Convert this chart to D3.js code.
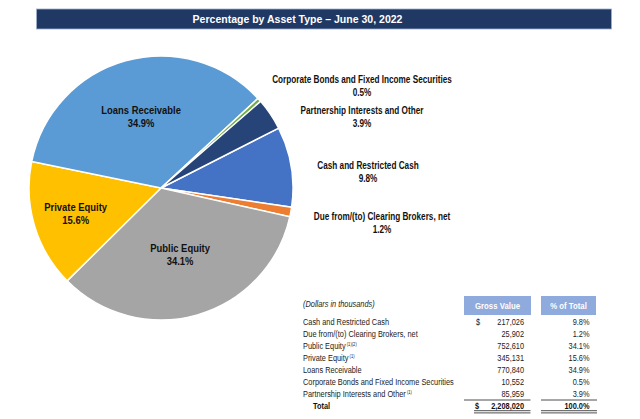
<!DOCTYPE html>
<html><head><meta charset="utf-8">
<script src="https://cdn.jsdelivr.net/npm/d3@7"></script>
<style>
body{margin:0;background:#fff;}
svg{display:block;}
text{font-family:'Liberation Sans',Arial,sans-serif;}
</style></head>
<body>
<svg id="chart" width="640" height="419"></svg>
<script>
// ---- data ----
const categories = ["Cash and Restricted Cash","Due from/(to) Clearing Brokers, net","Public Equity","Private Equity","Loans Receivable","Corporate Bonds and Fixed Income Securities","Partnership Interests and Other"];
const grossValues = [217026, 25902, 752610, 345131, 770840, 10552, 85959];
const percentLabels = ["9.8%","1.2%","34.1%","15.6%","34.9%","0.5%","3.9%"];
const grossLabels = ["217,026","25,902","752,610","345,131","770,840","10,552","85,959"];
const footnotes = ["","","(1)(2)","(1)","","","(1)"];
const totalGross = "2,208,020";
const totalPercent = "100.0%";
const colors = ["#4472C4","#ED7D31","#A5A5A5","#FFC000","#5B9BD5","#70AD47","#264478"];
const title = "Percentage by Asset Type \u2013 June 30, 2022";

const svg = d3.select("#chart");
const SX = 0.82; // narrow font emulation

function txt(parent, x, y, str, o={}){
  const g = parent.append("g").attr("transform",`translate(${x},${y}) scale(${o.sx||SX},1)`);
  const t = g.append("text").attr("dy","0.35em")
    .attr("text-anchor",o.anchor||"start")
    .attr("font-size",o.size||9)
    .attr("font-weight",o.weight||"normal")
    .attr("font-style",o.style||"normal")
    .attr("fill",o.fill||"#222");
  t.append("tspan").text(str);
  if(o.sup) t.append("tspan").attr("font-size",5).attr("dy","-0.6em").text(" "+o.sup);
  return t;
}

// title bar
svg.append("rect").attr("x",36.5).attr("y",9).attr("width",575).attr("height",20).attr("fill","#1F3864")
  .attr("stroke","#9fb0cc").attr("stroke-width",0.8);
txt(svg,297.5,19.3,title,{anchor:"middle",fill:"#fff",weight:"bold",size:11.5,sx:0.915});

// pie
const cx = 161, cy = 188, R = 132;
const pie = d3.pie().sort(null).value(d=>d).startAngle(63*Math.PI/180).endAngle(63*Math.PI/180+2*Math.PI);
const arcs = pie(grossValues);
const arc = d3.arc().innerRadius(0).outerRadius(R);
const g = svg.append("g").attr("transform",`translate(${cx},${cy})`);
g.selectAll("path").data(arcs).enter().append("path")
  .attr("d",arc).attr("fill",(d,i)=>colors[i]).attr("stroke","#fff").attr("stroke-width",1.5);

// labels: inside for large slices (radius along mid angle), outside for small ones
const insideR = {2:69, 3:89, 4:74};
const outsidePos = {0:[207,-16], 1:[221,35], 5:[201,-102], 6:[201,-71]};
arcs.forEach((a,i)=>{
  let x,y,fs;
  if(insideR[i]!==undefined){
    const m=(a.startAngle+a.endAngle)/2;
    x = insideR[i]*Math.sin(m); y = -insideR[i]*Math.cos(m); fs=11.5;
  } else { [x,y]=outsidePos[i]; fs=10; }
  txt(g,x,y-6.5,categories[i],{anchor:"middle",weight:"bold",size:fs,fill:"#111"});
  txt(g,x,y+6.5,percentLabels[i],{anchor:"middle",weight:"bold",size:fs,fill:"#111"});
});

// table
const tbl = svg.append("g");
txt(tbl,303,304,"(Dollars in thousands)",{style:"italic"});
tbl.append("rect").attr("x",464).attr("y",296).attr("width",67).attr("height",19).attr("fill","#8FAADC");
tbl.append("rect").attr("x",541).attr("y",296).attr("width",55).attr("height",19).attr("fill","#8FAADC");
txt(tbl,497.5,306,"Gross Value",{anchor:"middle",fill:"#fff",weight:"bold",size:9.5});
txt(tbl,568.5,306,"% of Total",{anchor:"middle",fill:"#fff",weight:"bold",size:9.5});

const rowY = d3.scaleLinear().domain([0,7]).range([322,405.5]);
categories.forEach((c,i)=>{
  const y=rowY(i);
  txt(tbl,303,y,c,{sup:footnotes[i]});
  if(i===0) txt(tbl,476,y,"$");
  txt(tbl,524,y,grossLabels[i],{anchor:"end"});
  txt(tbl,589.5,y,percentLabels[i],{anchor:"end"});
});
const ty=rowY(7);
txt(tbl,313,ty,"Total",{weight:"bold",fill:"#111"});
txt(tbl,475,ty,"$",{weight:"bold",fill:"#111"});
txt(tbl,524,ty,totalGross,{anchor:"end",weight:"bold",fill:"#111"});
txt(tbl,589.5,ty,totalPercent,{anchor:"end",weight:"bold",fill:"#111"});
const ln=(x1,x2,y)=>tbl.append("line").attr("x1",x1).attr("x2",x2).attr("y1",y).attr("y2",y).attr("stroke","#222").attr("stroke-width",0.8);
ln(464,530.5,400); ln(541,597,400);
ln(474,530.5,410.7); ln(474,530.5,412.9); ln(541,597,410.7); ln(541,597,412.9);
</script>
</body></html>
